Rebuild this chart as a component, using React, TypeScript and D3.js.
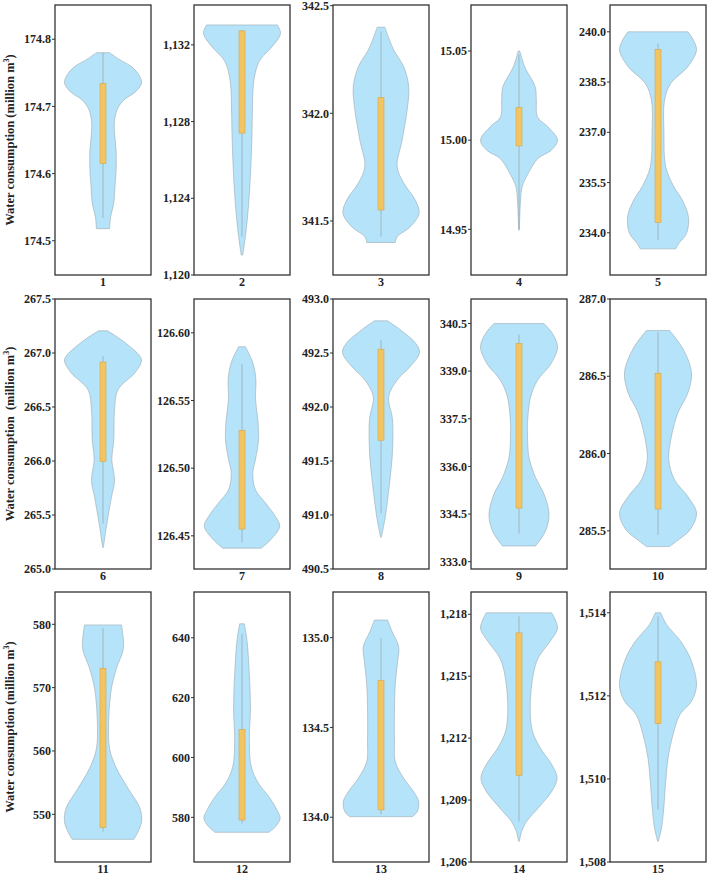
import React from "react";
import * as d3 from "d3";

// ---- data ----
const panelLabels = ["1","2","3","4","5","6","7","8","9","10","11","12","13","14","15"];

const yDomains: [number, number][] = [
  [174.449, 174.851], [1120, 1134.08], [341.249, 342.503], [14.9244, 15.0758], [232.74, 240.8],
  [265.0, 267.5], [126.4255, 126.625], [490.5, 493.0], [332.77, 341.27], [285.253, 287.0],
  [542.47, 585.1], [565.07, 655.3], [133.751, 135.254], [1206, 1219.08], [1508, 1514.5],
];

const yTicks: number[][] = [
  [174.5, 174.6, 174.7, 174.8], [1120, 1124, 1128, 1132], [341.5, 342.0, 342.5], [14.95, 15.0, 15.05],
  [234.0, 235.5, 237.0, 238.5, 240.0],
  [265.0, 265.5, 266.0, 266.5, 267.0, 267.5], [126.45, 126.5, 126.55, 126.6], [490.5, 491.0, 491.5, 492.0, 492.5, 493.0],
  [333.0, 334.5, 336.0, 337.5, 339.0, 340.5], [285.5, 286.0, 286.5, 287.0],
  [550, 560, 570, 580], [580, 600, 620, 640], [134.0, 134.5, 135.0], [1206, 1209, 1212, 1215, 1218], [1508, 1510, 1512, 1514],
];

const tickFormats = [".1f", ",d", ".1f", ".2f", ".1f", ".1f", ".2f", ".1f", ".1f", ".1f", "d", "d", ".1f", ",d", ",d"];

// density profiles: value (top to bottom) and relative half-width
const profileValues: number[][] = [
  [174.78, 174.77, 174.76, 174.748, 174.735, 174.722, 174.71, 174.697, 174.68, 174.66, 174.635, 174.605, 174.58, 174.556, 174.536, 174.518],
  [1133.04, 1132.6, 1131.9, 1131.3, 1130.87, 1130.0, 1128.5, 1127.4, 1125.65, 1123.9, 1122.2, 1121.04],
  [342.4, 342.35, 342.294, 342.216, 342.124, 342.016, 341.876, 341.752, 341.676, 341.597, 341.536, 341.473, 341.427, 341.4],
  [15.05, 15.041, 15.03, 15.0225, 15.013, 15.0075, 15.0, 14.9944, 14.9897, 14.981, 14.9738, 14.9664, 14.957, 14.9496],
  [240.0, 239.75, 239.45, 238.95, 238.46, 237.96, 236.97, 235.97, 235.38, 234.98, 234.48, 233.98, 233.68, 233.52],
  [267.205, 267.097, 266.97, 266.925, 266.817, 266.66, 266.475, 266.196, 266.01, 265.82, 265.667, 265.42, 265.2],
  [126.5897, 126.578, 126.5657, 126.551, 126.536, 126.5212, 126.5064, 126.4965, 126.484, 126.4743, 126.4643, 126.457, 126.447, 126.4409],
  [492.798, 492.715, 492.59, 492.504, 492.374, 492.25, 492.095, 491.91, 491.785, 491.537, 491.35, 491.166, 490.98, 490.794],
  [340.496, 340.18, 339.757, 339.23, 338.706, 338.18, 337.338, 337.02, 336.284, 335.65, 335.128, 334.497, 333.97, 333.496],
  [286.796, 286.677, 286.525, 286.395, 286.265, 286.113, 285.96, 285.83, 285.72, 285.615, 285.506, 285.44, 285.398],
  [579.9, 576.2, 573.05, 569.9, 565.16, 560.4, 557.26, 554.1, 550.95, 548.8, 547.25, 546.05],
  [644.67, 639.1, 628, 616.9, 605.8, 596.9, 591.3, 586.9, 582.4, 579.7, 576.9, 575.0],
  [135.098, 135.033, 134.949, 134.866, 134.736, 134.607, 134.42, 134.31, 134.217, 134.142, 134.087, 134.031, 134.003],
  [1218.07, 1217.34, 1216.69, 1215.89, 1215.08, 1213.47, 1212.33, 1211.53, 1210.72, 1210.07, 1209.42, 1208.62, 1207.97, 1207.48, 1207.0],
  [1514.0, 1513.72, 1513.3, 1512.83, 1512.25, 1511.87, 1511.55, 1511.07, 1510.5, 1509.94, 1509.3, 1508.82, 1508.5],
];

const profileWidths: number[][] = [
  [0.17, 0.42, 0.72, 0.92, 1.0, 0.85, 0.55, 0.38, 0.3, 0.3, 0.34, 0.34, 0.31, 0.28, 0.2, 0.17],
  [0.92, 1.0, 0.78, 0.5, 0.39, 0.3, 0.27, 0.26, 0.23, 0.18, 0.1, 0.02],
  [0.1, 0.2, 0.33, 0.59, 0.72, 0.68, 0.55, 0.42, 0.59, 0.89, 0.99, 0.76, 0.42, 0.37],
  [0.02, 0.15, 0.42, 0.45, 0.48, 0.75, 1.0, 0.84, 0.49, 0.23, 0.08, 0.04, 0.02, 0.01],
  [0.78, 0.92, 1.0, 0.77, 0.33, 0.17, 0.155, 0.2, 0.41, 0.63, 0.79, 0.74, 0.54, 0.46],
  [0.12, 0.57, 0.96, 1.0, 0.83, 0.39, 0.3, 0.28, 0.23, 0.3, 0.22, 0.1, 0.01],
  [0.09, 0.28, 0.36, 0.35, 0.41, 0.43, 0.35, 0.28, 0.35, 0.61, 0.87, 0.98, 0.74, 0.5],
  [0.17, 0.5, 0.9, 1.0, 0.76, 0.42, 0.2, 0.29, 0.31, 0.29, 0.24, 0.18, 0.11, 0.01],
  [0.65, 0.87, 1.0, 0.83, 0.48, 0.3, 0.22, 0.22, 0.26, 0.43, 0.65, 0.78, 0.69, 0.43],
  [0.3, 0.65, 0.87, 0.78, 0.52, 0.35, 0.28, 0.43, 0.78, 1.0, 0.83, 0.52, 0.3],
  [0.48, 0.53, 0.35, 0.22, 0.15, 0.17, 0.35, 0.65, 0.96, 1.0, 0.91, 0.8],
  [0.06, 0.13, 0.19, 0.22, 0.19, 0.24, 0.43, 0.7, 0.91, 0.99, 0.87, 0.7],
  [0.17, 0.29, 0.46, 0.43, 0.37, 0.35, 0.35, 0.37, 0.59, 0.85, 0.98, 0.94, 0.81],
  [0.85, 1.0, 0.81, 0.5, 0.37, 0.29, 0.35, 0.55, 0.85, 0.99, 0.85, 0.5, 0.2, 0.07, 0.01],
  [0.07, 0.22, 0.6, 0.87, 1.0, 0.87, 0.57, 0.39, 0.26, 0.2, 0.15, 0.09, 0.01],
];

const q3Values = [174.734, 1132.73, 342.074, 15.0183, 239.47, 266.916, 126.528, 492.535, 339.865, 286.52, 573.05, 609.3, 134.762, 1217.1, 1512.82];
const q1Values = [174.615, 1127.4, 341.551, 14.9968, 234.31, 265.994, 126.455, 491.692, 334.686, 285.641, 547.95, 579.1, 134.041, 1210.2, 1511.33];
const whiskerHigh = [174.78, 1132.78, 342.38, 15.048, 239.65, 266.97, 126.577, 492.62, 340.15, 286.785, 579.37, 641.3, 134.996, 1217.9, 1513.92];
const whiskerLow = [174.534, 1122.0, 341.427, 14.95, 233.78, 265.42, 126.445, 491.017, 333.88, 285.474, 547.25, 578.0, 134.017, 1207.97, 1509.26];

// ---- layout ----
const W = 708, H = 875;
const colLefts = [55, 194, 333, 471, 610];
const rowTops = [5, 299, 592];
const boxW = 96, boxH = 270;
const halfMax = 38.5;
const FONT = "'Liberation Serif', 'Times New Roman', serif";

function Panel({ i }: { i: number }) {
  const col = i % 5, row = Math.floor(i / 5);
  const x0 = colLefts[col], y0 = rowTops[row];
  const cx = x0 + boxW / 2;
  const y = d3.scaleLinear().domain(yDomains[i]).range([y0 + boxH, y0]);
  const w = d3.scaleLinear().domain([0, 1]).range([0, halfMax]);
  const pts = profileValues[i].map((v, k) => ({ v, w: profileWidths[i][k] }));
  const area = d3.area<{ v: number; w: number }>()
    .y((d) => y(d.v))
    .x0((d) => cx - w(d.w))
    .x1((d) => cx + w(d.w))
    .curve(d3.curveCatmullRom.alpha(0.5));
  const fmt = d3.format(tickFormats[i]);
  const bw = 6;
  return (
    <g>
      <path d={area(pts) || ""} fill="#b5e3fa" stroke="#9aa9b2" strokeWidth={0.6} />
      <line x1={cx} x2={cx} y1={y(whiskerHigh[i])} y2={y(whiskerLow[i])} stroke="#9aabb4" strokeWidth={0.8} />
      <rect x={cx - bw / 2} width={bw} y={y(q3Values[i])} height={y(q1Values[i]) - y(q3Values[i])}
        fill="#f2c462" stroke="#d4a84a" strokeWidth={0.6} />
      <rect x={x0} y={y0} width={boxW} height={boxH} fill="none" stroke="#333" strokeWidth={1.3} />
      {yTicks[i].map((t) => (
        <g key={t}>
          <line x1={x0 - 3} x2={x0} y1={y(t)} y2={y(t)} stroke="#333" strokeWidth={1} />
          <text x={x0 - 4} y={y(t)} dy="0.35em" textAnchor="end" fontFamily={FONT} fontWeight="bold" fontSize={12} fill="#222">
            {fmt(t)}
          </text>
        </g>
      ))}
      <text x={cx} y={y0 + boxH + 10.5} textAnchor="middle" fontFamily={FONT} fontWeight="bold" fontSize={12} fill="#222">
        {panelLabels[i]}
      </text>
    </g>
  );
}

const titles = ["Water consumption (million m", "Water consumption  (million m", "Water consumption (million m"];

export default function App() {
  return (
    <svg width={W} height={H} style={{ position: "absolute", left: 0, top: 0, background: "#fff" }}>
      <rect width={W} height={H} fill="#fff" />
      {panelLabels.map((_, i) => <Panel key={i} i={i} />)}
      {rowTops.map((t, r) => (
        <text key={r} transform={`translate(14,${t + boxH / 2}) rotate(-90)`} textAnchor="middle"
          fontFamily={FONT} fontWeight="bold" fontSize={12.5} fill="#222" style={{ whiteSpace: "pre" }}>
          {titles[r]}
          <tspan fontSize={8} dy={-5}>3</tspan>
          <tspan dy={5}>)</tspan>
        </text>
      ))}
    </svg>
  );
}
